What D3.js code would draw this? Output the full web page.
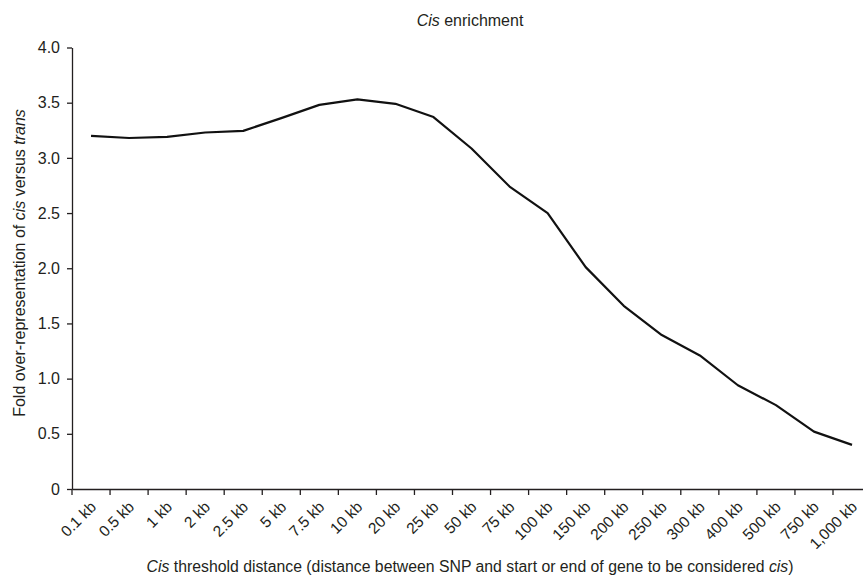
<!DOCTYPE html>
<html><head><meta charset="utf-8">
<script src="https://cdn.jsdelivr.net/npm/d3@7"></script>
<style>body{margin:0;background:#fff}svg{display:block;font-family:"Liberation Sans",Arial,sans-serif}</style>
</head><body><svg id="c" width="863" height="576"></svg>
<script>
const categories = ["0.1 kb","0.5 kb","1 kb","2 kb","2.5 kb","5 kb","7.5 kb","10 kb","20 kb","25 kb","50 kb","75 kb","100 kb","150 kb","200 kb","250 kb","300 kb","400 kb","500 kb","750 kb","1,000 kb"];
const values = [3.20,3.18,3.19,3.23,3.245,3.36,3.48,3.53,3.49,3.37,3.085,2.74,2.50,2.01,1.66,1.395,1.21,0.94,0.76,0.52,0.40];
const yTicks = [0,0.5,1.0,1.5,2.0,2.5,3.0,3.5,4.0];
const yTickLabels = ["0","0.5","1.0","1.5","2.0","2.5","3.0","3.5","4.0"];

const svg = d3.select("#c");
const mLeft = 72, mTop = 47.5, mBottom = 489, bandW = 38.05;
const x = d3.scaleBand().domain(categories).range([mLeft, mLeft + bandW*categories.length]).padding(0);
const y = d3.scaleLinear().domain([0,4]).range([mBottom, mTop]);
const ink = "#231f20";

// y axis
const ya = svg.append("g").attr("transform",`translate(${mLeft},0)`)
  .call(d3.axisLeft(y).tickValues(yTicks).tickFormat((d,i)=>yTickLabels[i]).tickSize(5).tickSizeOuter(0).tickPadding(7));
ya.select(".domain").attr("stroke",ink).attr("stroke-width",1.3);
ya.selectAll(".tick line").attr("stroke",ink).attr("stroke-width",1.3);
ya.selectAll(".tick text").attr("fill",ink).style("font-size","16px");

// x axis
const xa = svg.append("g").attr("transform",`translate(0,${mBottom})`)
  .call(d3.axisBottom(x).tickSize(0).tickFormat(""));
xa.select(".domain").attr("stroke",ink).attr("stroke-width",1.3);
const bounds = d3.range(categories.length+1).map(i => mLeft + i*x.bandwidth());
xa.selectAll(".btick").data(bounds).enter().append("line")
  .attr("x1",d=>d).attr("x2",d=>d).attr("y1",0).attr("y2",6).attr("stroke",ink).attr("stroke-width",1.3);
xa.selectAll(".tick").each(function(d){
  d3.select(this).append("text")
    .attr("transform",`translate(6,19) rotate(-45)`)
    .attr("text-anchor","end").attr("fill",ink).style("font-size","15.5px")
    .text(d);
});

// line
const line = d3.line().x((d,i)=>x(categories[i])+x.bandwidth()/2).y(d=>y(d));
svg.append("path").datum(values).attr("d",line).attr("fill","none").attr("stroke","#111").attr("stroke-width",2.2).attr("stroke-linejoin","round");

// title
const t = svg.append("text").attr("x",470).attr("y",26).attr("text-anchor","middle").attr("fill",ink).style("font-size","16px");
t.append("tspan").style("font-style","italic").text("Cis");
t.append("tspan").text(" enrichment");

// x label
const xl = svg.append("text").attr("x",470).attr("y",572).attr("text-anchor","middle").attr("fill",ink).style("font-size","15.8px");
xl.append("tspan").style("font-style","italic").text("Cis");
xl.append("tspan").text(" threshold distance (distance between SNP and start or end of gene to be considered ");
xl.append("tspan").style("font-style","italic").text("cis");
xl.append("tspan").text(")");

// y label
const yl = svg.append("text").attr("transform","translate(25,263) rotate(-90)").attr("text-anchor","middle").attr("fill",ink).style("font-size","16px");
yl.append("tspan").text("Fold over-representation of ");
yl.append("tspan").style("font-style","italic").text("cis");
yl.append("tspan").text(" versus ");
yl.append("tspan").style("font-style","italic").text("trans");
</script></body></html>
